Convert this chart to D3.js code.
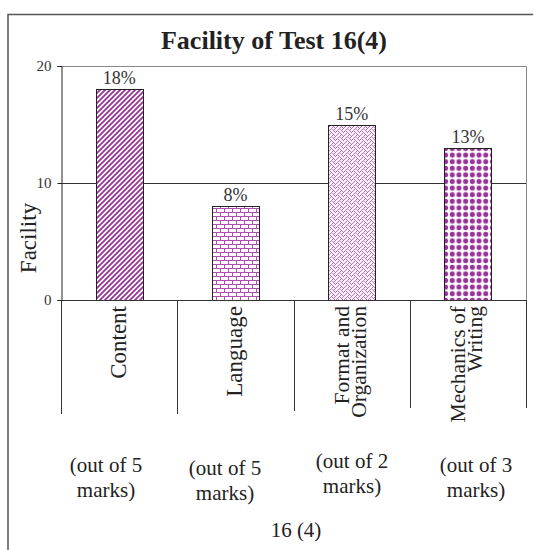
<!DOCTYPE html>
<html>
<head>
<meta charset="utf-8">
<script src="https://cdn.jsdelivr.net/npm/d3@7"></script>
<style>
  html, body { margin: 0; padding: 0; background: #fff; }
  svg { display: block; font-family: "Liberation Serif", "Times New Roman", serif; }
</style>
</head>
<body>
<svg id="chart" width="534" height="550"></svg>
<script>
// Facility of each part of Test 16(4)
const categories = [["Content"], ["Language"], ["Format and", "Organization"], ["Mechanics of", "Writing"]];
const facility = [18, 8, 15, 13];
const valueLabels = ["18%", "8%", "15%", "13%"];
const markNotes = [["(out of 5", "marks)"], ["(out of 5", "marks)"], ["(out of 2", "marks)"], ["(out of 3", "marks)"]];
const yTicks = [0, 10, 20];
const chartTitle = "Facility of Test 16(4)";
const yTitle = "Facility";
const xTitle = "16 (4)";

const svg = d3.select("#chart");
const purple = "#993399";

// Plot box
const plotLeft = 61, plotRight = 526, plotTop = 66, plotBottom = 300;

const x = d3.scaleBand().domain(d3.range(categories.length)).range([plotLeft, plotRight]).padding(0);
const y = d3.scaleLinear().domain([0, 20]).range([plotBottom, plotTop]);
const barW = x.bandwidth() * 0.405;

// ---- Fill patterns ----
const defs = svg.append("defs");

// wide upward diagonal
const pDiag = defs.append("pattern").attr("id", "pDiag")
  .attr("patternUnits", "userSpaceOnUse").attr("width", 5).attr("height", 5);
pDiag.append("rect").attr("width", 5).attr("height", 5).attr("fill", "#fff");
pDiag.append("path").attr("d", "M-1,1 L1,-1 M0,5 L5,0 M4,6 L6,4")
  .attr("stroke", purple).attr("stroke-width", 1.8);

// horizontal brick
const pBrick = defs.append("pattern").attr("id", "pBrick")
  .attr("patternUnits", "userSpaceOnUse").attr("width", 8).attr("height", 8);
pBrick.append("rect").attr("width", 8).attr("height", 8).attr("fill", "#fff");
pBrick.append("path").attr("d", "M0,0.5 H8 M0,4.5 H8 M0.5,0 V4.5 M4.5,4.5 V8")
  .attr("stroke", "#b050b0").attr("stroke-width", 1).attr("fill", "none");

// weave
const weaveRows = [0x11, 0x2a, 0x44, 0xa2, 0x11, 0x28, 0x44, 0x8a];
const pWeave = defs.append("pattern").attr("id", "pWeave")
  .attr("patternUnits", "userSpaceOnUse").attr("width", 8).attr("height", 8);
pWeave.append("rect").attr("width", 8).attr("height", 8).attr("fill", "#fbf3fb");
weaveRows.forEach((bits, r) => {
  for (let c = 0; c < 8; c++) {
    if (bits & (0x80 >> c)) {
      pWeave.append("rect").attr("x", c).attr("y", r).attr("width", 1).attr("height", 1)
        .attr("fill", "#c070c0");
    }
  }
});

// large dots
const pDots = defs.append("pattern").attr("id", "pDots")
  .attr("patternUnits", "userSpaceOnUse").attr("width", 6.7).attr("height", 6.6)
  .attr("x", 0).attr("y", 0);
pDots.append("rect").attr("width", 6.7).attr("height", 6.6).attr("fill", "#fff");
pDots.append("circle").attr("cx", 3.35).attr("cy", 3.3).attr("r", 2.5).attr("fill", purple);

const fills = ["url(#pDiag)", "url(#pBrick)", "url(#pWeave)", "url(#pDots)"];

// ---- Outer frame (left and top edges) ----
svg.append("path").attr("d", "M8,550 V14.5 H533")
  .attr("fill", "none").attr("stroke", "#555").attr("stroke-width", 1.5);

// ---- Title ----
svg.append("text").attr("x", 274).attr("y", 49).attr("text-anchor", "middle")
  .attr("font-size", 26).attr("font-weight", "bold").attr("fill", "#222").text(chartTitle);

// ---- Plot border (top and right) ----
svg.append("path").attr("d", `M${plotLeft},${plotTop + 0.5} H${plotRight + 0.5} V${plotBottom}`)
  .attr("fill", "none").attr("stroke", "#888").attr("stroke-width", 1);

// gridline at 10
svg.append("line").attr("x1", plotLeft).attr("x2", plotRight)
  .attr("y1", Math.round(y(10)) + 0.5).attr("y2", Math.round(y(10)) + 0.5)
  .attr("stroke", "#333").attr("stroke-width", 1);

// ---- Bars ----
svg.append("g").selectAll("rect").data(facility).join("rect")
  .attr("x", (d, i) => Math.round(x(i) + x.bandwidth() / 2 - barW / 2) + 0.5)
  .attr("y", d => Math.round(y(d)) + 0.5)
  .attr("width", Math.round(barW))
  .attr("height", d => Math.round(y(0)) - Math.round(y(d)))
  .attr("fill", (d, i) => fills[i])
  .attr("stroke", "#222").attr("stroke-width", 1);

// ---- Value labels ----
const lab = svg.append("g").selectAll("g").data(facility).join("g")
  .attr("transform", (d, i) => `translate(${x(i) + x.bandwidth() / 2},${y(d) - 5})`);
lab.append("rect").attr("x", -17).attr("y", -14).attr("width", 34).attr("height", 17).attr("fill", "#fff");
lab.append("text").attr("text-anchor", "middle").attr("font-size", 18).attr("fill", "#333")
  .text((d, i) => valueLabels[i]);

// ---- Y axis ----
const yAxis = svg.append("g").attr("transform", `translate(${plotLeft + 0.5},0)`)
  .call(d3.axisLeft(y).tickValues(yTicks).tickSize(4).tickPadding(6).tickFormat(d3.format("d")));
yAxis.select(".domain").attr("stroke", "#222");
yAxis.selectAll(".tick line").attr("stroke", "#222");
yAxis.selectAll("text").attr("font-size", 15).attr("fill", "#333")
  .attr("font-family", "Liberation Serif, serif");

svg.append("text").attr("transform", "translate(36,238) rotate(-90)")
  .attr("text-anchor", "middle").attr("font-size", 23).attr("fill", "#222").text(yTitle);

// ---- X axis line and category dividers ----
svg.append("line").attr("x1", plotLeft).attr("x2", plotRight + 1)
  .attr("y1", plotBottom + 0.5).attr("y2", plotBottom + 0.5).attr("stroke", "#333").attr("stroke-width", 1.2);

const edges = d3.range(categories.length + 1).map(i => i < categories.length ? x(i) : x(i - 1) + x.bandwidth());
const edgeEnds = [414, 414, 411, 408, 408];
svg.append("g").selectAll("line").data(edges).join("line")
  .attr("x1", d => Math.round(d) + 0.5).attr("x2", d => Math.round(d) + 0.5)
  .attr("y1", plotBottom).attr("y2", (d, i) => edgeEnds[i])
  .attr("stroke", "#333").attr("stroke-width", 1);

// ---- Category names (rotated) ----
const catG = svg.append("g").selectAll("text").data(categories).join("text")
  .attr("text-anchor", "end").attr("font-size", d => d.length === 1 ? 23 : 21.5).attr("fill", "#222")
  .attr("transform", (d, i) => {
    const cx = x(i) + x.bandwidth() / 2;
    const shift = d.length === 1 ? 7 : -3;
    return `translate(${cx + shift},${plotBottom + 6}) rotate(-90)`;
  });
catG.selectAll("tspan").data(d => d).join("tspan")
  .attr("x", 0).attr("dy", (d, j) => j === 0 ? 0 : 17).text(d => d);

// ---- Mark notes under each category ----
const noteX = [106, 225, 352, 476];
const noteY = [472, 475, 468, 472];
const notes = svg.append("g").selectAll("text").data(markNotes).join("text")
  .attr("text-anchor", "middle").attr("font-size", 21).attr("fill", "#222")
  .attr("transform", (d, i) => `translate(${noteX[i]},${noteY[i]})`);
notes.selectAll("tspan").data(d => d).join("tspan")
  .attr("x", 0).attr("dy", (d, j) => j === 0 ? 0 : 25).text(d => d);

// ---- X title ----
svg.append("text").attr("x", 296).attr("y", 537).attr("text-anchor", "middle")
  .attr("font-size", 21).attr("fill", "#222").text(xTitle);
</script>
</body>
</html>
